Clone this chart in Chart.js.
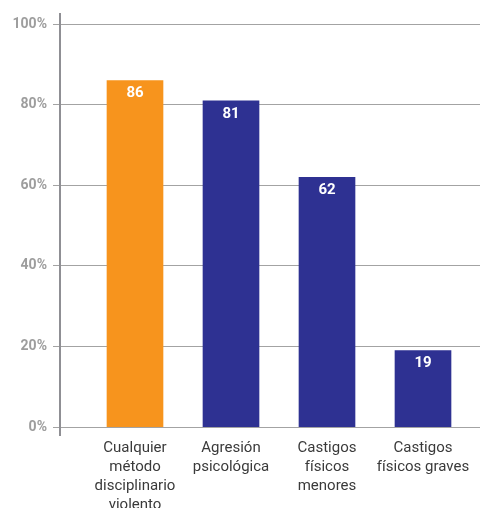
<!DOCTYPE html>
<html>
<head>
<meta charset="utf-8">
<script src="https://cdn.jsdelivr.net/npm/chart.js@4"></script>
<style>
  html, body { margin: 0; padding: 0; background: #fff; }
  #wrap { width: 480px; height: 508px; }
</style>
</head>
<body>
<div id="wrap"><canvas id="chart" width="480" height="508"></canvas></div>
<script>
// chart data
const categories = [
    ['Cualquier', 'método', 'disciplinario', 'violento'],
    ['Agresión', 'psicológica'],
    ['Castigos', 'físicos', 'menores'],
    ['Castigos', 'físicos graves']
];
const values = [86, 81, 62, 19];
const barColors = ['#F7941D', '#2E3192', '#2E3192', '#2E3192'];
const yTicks = [0, 20, 40, 60, 80, 100];

// white numbers inside the bars
const barLabels = {
    id: 'barLabels',
    afterDatasetsDraw(chart) {
        const ctx = chart.ctx;
        const meta = chart.getDatasetMeta(0);
        ctx.save();
        ctx.fillStyle = '#ffffff';
        ctx.font = 'bold 15px Roboto';
        ctx.textAlign = 'center';
        ctx.textBaseline = 'middle';
        meta.data.forEach((bar, i) => {
            ctx.fillText(values[i], bar.x, bar.y + 13);
        });
        ctx.restore();
    }
};

const ctx = document.getElementById('chart').getContext('2d');
new Chart(ctx, {
    type: 'bar',
    data: {
        datasets: [{
            data: values.map((v, i) => ({ x: i, y: v })),
            backgroundColor: barColors,
            barThickness: 56,
            borderWidth: 0
        }]
    },
    options: {
        responsive: false,
        animation: false,
        layout: { padding: { top: 11, right: 0, bottom: 0, left: 0 } },
        plugins: {
            legend: { display: false },
            tooltip: { enabled: false }
        },
        scales: {
            x: {
                type: 'linear',
                offset: false,
                min: -0.78125,
                max: 3.59375,
                grid: { display: false, drawTicks: false },
                border: { display: false },
                afterBuildTicks: scale => { scale.ticks = categories.map((c, i) => ({ value: i })); },
                afterFit: scale => { scale.height = 73; },
                ticks: {
                    autoSkip: false,
                    maxRotation: 0,
                    padding: 4,
                    color: '#3a3a3a',
                    font: { family: 'Roboto', size: 15, lineHeight: 1.27 },
                    callback: v => categories[v]
                }
            },
            y: {
                min: -1.97,
                max: 102.46,
                afterBuildTicks: scale => { scale.ticks = yTicks.map(v => ({ value: v })); },
                afterFit: scale => { scale.width = 60; },
                grid: { color: '#a3a3a3', lineWidth: 1, tickLength: 7 },
                border: { color: '#8f8f94', width: 2 },
                ticks: {
                    padding: 6,
                    color: '#9d9d9d',
                    font: { family: 'Roboto', size: 14, weight: 'bold' },
                    callback: v => v + '%'
                }
            }
        }
    },
    plugins: [barLabels]
});
</script>
</body>
</html>
